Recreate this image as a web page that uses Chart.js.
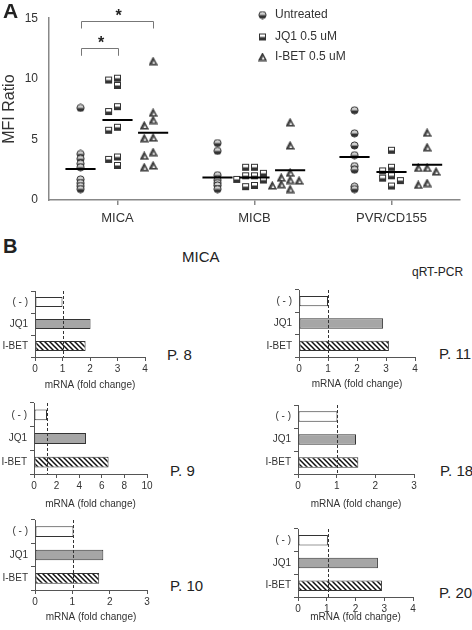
<!DOCTYPE html>
<html>
<head>
<meta charset="utf-8">
<script src="https://cdn.jsdelivr.net/npm/chart.js@4.4.0/dist/chart.umd.min.js"></script>
<style>
  body { margin: 0; background: #fff; }
  #page { position: relative; width: 472px; height: 630px; overflow: hidden;
          font-family: Arial, "Liberation Sans", sans-serif; color: #222; }
  canvas { position: absolute; }
  .lbl { position: absolute; white-space: nowrap; line-height: 1; }
</style>
</head>
<body>
<div id="page">
  <canvas id="chartA"></canvas>
  <canvas id="p8"></canvas>
  <canvas id="p11"></canvas>
  <canvas id="p9"></canvas>
  <canvas id="p18"></canvas>
  <canvas id="p10"></canvas>
  <canvas id="p20"></canvas>

  <div class="lbl" style="left:3px;top:0px;font-size:21px;font-weight:bold;">A</div>
  <div class="lbl" style="left:3px;top:236px;font-size:20px;font-weight:bold;">B</div>
  <div class="lbl" style="left:182px;top:249px;font-size:15px;">MICA</div>
  <div class="lbl" style="left:412px;top:266px;font-size:12px;">qRT-PCR</div>
  <div class="lbl" style="left:167px;top:347px;font-size:15px;">P. 8</div>
  <div class="lbl" style="left:439px;top:346px;font-size:15px;">P. 11</div>
  <div class="lbl" style="left:170px;top:463px;font-size:15px;">P. 9</div>
  <div class="lbl" style="left:440px;top:463px;font-size:15px;">P. 18</div>
  <div class="lbl" style="left:170px;top:578px;font-size:15px;">P. 10</div>
  <div class="lbl" style="left:439px;top:585px;font-size:15px;">P. 20</div>
</div>
<script>
// ---- panel A data (MFI ratio, one list per gene) ----
var genes = ['MICA', 'MICB', 'PVR/CD155'];
var groupNames = ['Untreated', 'JQ1 0.5 uM', 'I-BET 0.5 uM'];
var untreated = [
  [7.6, 3.8, 3.4, 3.0, 2.7, 1.7, 1.4, 1.15, 0.9],
  [4.7, 4.05, 2.05, 1.65, 1.4, 1.2, 0.9],
  [7.4, 5.5, 4.5, 3.7, 2.8, 2.5, 1.1, 0.9]
];
var jq1 = [
  [10.05, 9.9, 9.45, 7.7, 7.3, 6.0, 5.75, 3.55, 3.35, 2.85],
  [2.7, 2.7, 2.2, 2.0, 2.0, 1.7, 1.65, 1.2, 1.1],
  [4.1, 2.7, 2.4, 2.0, 1.8, 1.6, 1.15]
];
var ibet = [
  [11.45, 7.2, 6.6, 6.15, 5.15, 5.1, 3.95, 3.65, 2.85, 2.7],
  [6.4, 4.5, 2.25, 1.85, 1.65, 1.6, 1.3, 1.2, 0.9],
  [5.55, 4.35, 2.65, 2.65, 2.35, 1.4, 1.25]
];
var untreatedMid = [2.55, 1.85, 3.55];
var jq1Mid = [6.6, 1.85, 2.3];
var ibetMid = [5.55, 2.45, 2.9];
var yTicksA = [0, 5, 10, 15];
// significance brackets on MICA: from group, to group, level
var bracketFrom = [0, 0];
var bracketTo = [1, 2];
var bracketLevel = [12.5, 14.75];

// ---- panel B data (mRNA fold change) ----
var barLabels = ['( - )', 'JQ1', 'I-BET'];
var foldP8 = [1.0, 2.02, 1.84];
var foldP11 = [1.0, 2.9, 3.1];
var foldP9 = [1.15, 4.6, 6.6];
var foldP18 = [1.02, 1.5, 1.56];
var foldP10 = [1.03, 1.83, 1.72];
var foldP20 = [1.04, 2.78, 2.92];

var FONT = 'Arial, "Liberation Sans", sans-serif';
Chart.defaults.font.family = FONT;
Chart.defaults.color = '#333';

// marker images: half filled circle / square, triangle
function markerCanvas(kind) {
  var c = document.createElement('canvas');
  c.width = 9; c.height = 9;
  var g = c.getContext('2d');
  g.lineWidth = 1;
  g.strokeStyle = '#333';
  if (kind === 'circle') {
    g.beginPath(); g.arc(4.5, 4.5, 3.6, 0, Math.PI * 2); g.closePath();
    g.save(); g.clip();
    g.fillStyle = '#d0d0d0'; g.fillRect(0, 0, 9, 4.5);
    g.fillStyle = '#333'; g.fillRect(0, 4.5, 9, 4.5);
    g.restore();
    g.stroke();
  } else if (kind === 'square') {
    g.fillStyle = '#fff'; g.fillRect(1, 1.5, 7, 6);
    g.fillStyle = '#333'; g.fillRect(1, 4.5, 7, 3);
    g.strokeRect(1.5, 1.5, 6, 6);
  } else {
    g.lineWidth = 1.2;
    g.beginPath(); g.moveTo(4.5, 1); g.lineTo(8.2, 8); g.lineTo(0.8, 8); g.closePath();
    g.fillStyle = '#555'; g.fill(); g.stroke();
    g.beginPath(); g.moveTo(5.0, 4.0); g.lineTo(6.6, 7.1); g.lineTo(4.0, 7.1); g.closePath();
    g.fillStyle = '#fff'; g.fill();
  }
  return c;
}
var markers = [markerCanvas('circle'), markerCanvas('square'), markerCanvas('tri')];

// simple beeswarm so close values don't sit on top of each other
function swarm(vals, center, cols) {
  var placed = [];
  return vals.map(function (v) {
    var col = cols[cols.length - 1];
    for (var i = 0; i < cols.length; i++) {
      var c = cols[i];
      var clash = placed.some(function (p) { return p.c === c && Math.abs(p.v - v) < 0.55; });
      if (!clash) { col = c; break; }
    }
    placed.push({ c: col, v: v });
    return { x: center + col * 0.065, y: v };
  });
}

var series = [untreated, jq1, ibet];
var mids = [untreatedMid, jq1Mid, ibetMid];
var groupOffset = [-0.27, 0, 0.26];
var datasetsA = [];
series.forEach(function (s, g) {
  var pts = [];
  s.forEach(function (vals, gi) {
    var cols = g === 0 ? [0] : [0, -1, 1, -2, 2];
    pts = pts.concat(swarm(vals, gi + groupOffset[g], cols));
  });
  datasetsA.push({
    label: groupNames[g], data: pts, pointStyle: markers[g], order: 2
  });
});
mids.forEach(function (m, g) {
  m.forEach(function (v, gi) {
    var cx = gi + groupOffset[g];
    datasetsA.push({
      data: [{ x: cx - 0.11, y: v }, { x: cx + 0.11, y: v }],
      showLine: true, borderColor: '#000', borderWidth: 2, pointRadius: 0, order: 1
    });
  });
});

var extrasA = {
  id: 'extrasA',
  afterDraw: function (chart) {
    var ctx = chart.ctx, xs = chart.scales.x, ys = chart.scales.y;
    ctx.save();
    // brackets + stars
    ctx.strokeStyle = '#777';
    ctx.lineWidth = 1;
    bracketLevel.forEach(function (lv, i) {
      var x1 = Math.round(xs.getPixelForValue(groupOffset[bracketFrom[i]])) + 0.5;
      var x2 = Math.round(xs.getPixelForValue(groupOffset[bracketTo[i]])) + 0.5;
      var y = Math.round(ys.getPixelForValue(lv)) + 0.5;
      var y2 = ys.getPixelForValue(lv - 0.6);
      ctx.beginPath();
      ctx.moveTo(x1, y2); ctx.lineTo(x1, y); ctx.lineTo(x2, y); ctx.lineTo(x2, y2);
      ctx.stroke();
      ctx.fillStyle = '#222';
      ctx.font = 'bold 16px ' + FONT;
      ctx.textAlign = 'center';
      ctx.textBaseline = 'alphabetic';
      ctx.fillText('*', (x1 + x2) / 2 + 1, y - 1);
    });
    // legend
    var rows = [15, 37, 57];
    ctx.font = '12px ' + FONT;
    ctx.textAlign = 'left';
    ctx.textBaseline = 'middle';
    ctx.fillStyle = '#333';
    groupNames.forEach(function (name, g) {
      ctx.drawImage(markers[g], 258, rows[g] - 4.5);
      ctx.fillText(name, 275, rows[g]);
    });
    ctx.restore();
  }
};

var canvasA = document.getElementById('chartA');
canvasA.width = 472; canvasA.height = 232;
canvasA.style.left = '0px'; canvasA.style.top = '0px';
new Chart(canvasA, {
  type: 'scatter',
  data: { datasets: datasetsA },
  options: {
    responsive: false, animation: false, events: [],
    layout: { padding: { top: 18, right: 12, left: 0, bottom: 0 } },
    plugins: { legend: { display: false }, tooltip: { enabled: false } },
    scales: {
      x: {
        type: 'linear', min: -0.5, max: 2.5,
        afterBuildTicks: function (s) { s.ticks = genes.map(function (g, i) { return { value: i }; }); },
        ticks: { callback: function (v) { return genes[v]; }, font: { size: 13 }, color: '#333',
                 padding: 6, autoSkip: false, maxRotation: 0 },
        grid: { drawOnChartArea: false, tickLength: 5, color: '#888', lineWidth: 1.5 },
        border: { color: '#888', width: 1.5 },
        afterFit: function (s) { s.height = 32; }
      },
      y: {
        min: 0, max: 15,
        afterBuildTicks: function (s) { s.ticks = yTicksA.map(function (v) { return { value: v }; }); },
        ticks: { font: { size: 12 }, color: '#333', padding: 11 },
        grid: { drawOnChartArea: false, drawTicks: false },
        border: { color: '#888', width: 1.5 },
        title: { display: true, text: 'MFI Ratio', font: { size: 16 }, color: '#333', padding: 0 },
        afterFit: function (s) { s.width = 49; }
      }
    }
  },
  plugins: [extrasA]
});

// ---- panel B: small horizontal bar charts ----
var refLine = {
  id: 'refLine',
  afterDatasetsDraw: function (chart) {
    var ctx = chart.ctx, a = chart.chartArea;
    var x = Math.round(chart.scales.x.getPixelForValue(chart.data.datasets[0].data[0])) + 0.5;
    ctx.save();
    ctx.strokeStyle = '#333';
    ctx.lineWidth = 1;
    ctx.setLineDash([3, 2]);
    ctx.beginPath(); ctx.moveTo(x, a.top); ctx.lineTo(x, a.bottom); ctx.stroke();
    ctx.restore();
  }
};

function hatch(ctx) {
  var c = document.createElement('canvas');
  c.width = 5; c.height = 5;
  var g = c.getContext('2d');
  g.fillStyle = '#fff'; g.fillRect(0, 0, 5, 5);
  g.strokeStyle = '#111'; g.lineWidth = 1.5;
  g.beginPath();
  g.moveTo(-1, -1); g.lineTo(6, 6);
  g.moveTo(-1, 4); g.lineTo(1, 6);
  g.moveTo(4, -1); g.lineTo(6, 1);
  g.stroke();
  return ctx.createPattern(c, 'repeat');
}

function barChart(id, values, max, step, box) {
  var canvas = document.getElementById(id);
  canvas.width = box.w; canvas.height = box.h;
  canvas.style.left = box.x + 'px'; canvas.style.top = box.y + 'px';
  var ctx = canvas.getContext('2d');
  return new Chart(ctx, {
    type: 'bar',
    data: {
      labels: barLabels,
      datasets: [{
        data: values,
        backgroundColor: ['#fff', '#a6a6a6', hatch(ctx)],
        borderColor: '#333', borderWidth: 1, borderSkipped: false,
        barPercentage: 0.46, categoryPercentage: 1
      }]
    },
    options: {
      indexAxis: 'y', responsive: false, animation: false, events: [],
      layout: { padding: { top: 8, right: 15, left: 0, bottom: 0 } },
      plugins: { legend: { display: false }, tooltip: { enabled: false } },
      scales: {
        x: {
          min: 0, max: max,
          ticks: { stepSize: step, font: { size: 10 }, color: '#333', padding: 2, maxRotation: 0 },
          grid: { drawOnChartArea: false, tickLength: 4, color: '#555' },
          border: { color: '#555' },
          title: { display: true, text: 'mRNA (fold change)', font: { size: 10 }, color: '#333', padding: 0 },
          afterFit: function (s) { s.height = box.xh; }
        },
        y: {
          ticks: { font: { size: 10 }, color: '#333', padding: 3 },
          grid: { drawOnChartArea: false, tickLength: 4, color: '#555', offset: true },
          border: { color: '#555' },
          afterFit: function (s) { s.width = box.yw; }
        }
      }
    },
    plugins: [refLine]
  });
}

barChart('p8', foldP8, 4, 1, { x: 0, y: 282, w: 160, h: 109, yw: 35, xh: 34 });
barChart('p11', foldP11, 4, 1, { x: 236, y: 281, w: 194, h: 109, yw: 63, xh: 33 });
barChart('p9', foldP9, 10, 2, { x: 0, y: 394, w: 162, h: 116, yw: 34, xh: 36 });
barChart('p18', foldP18, 3, 1, { x: 236, y: 396, w: 193, h: 114, yw: 62, xh: 36 });
barChart('p10', foldP10, 3, 1, { x: 0, y: 511, w: 162, h: 112, yw: 35, xh: 33 });
barChart('p20', foldP20, 4, 1, { x: 236, y: 520, w: 192, h: 103, yw: 62, xh: 26 });
</script>
</body>
</html>
